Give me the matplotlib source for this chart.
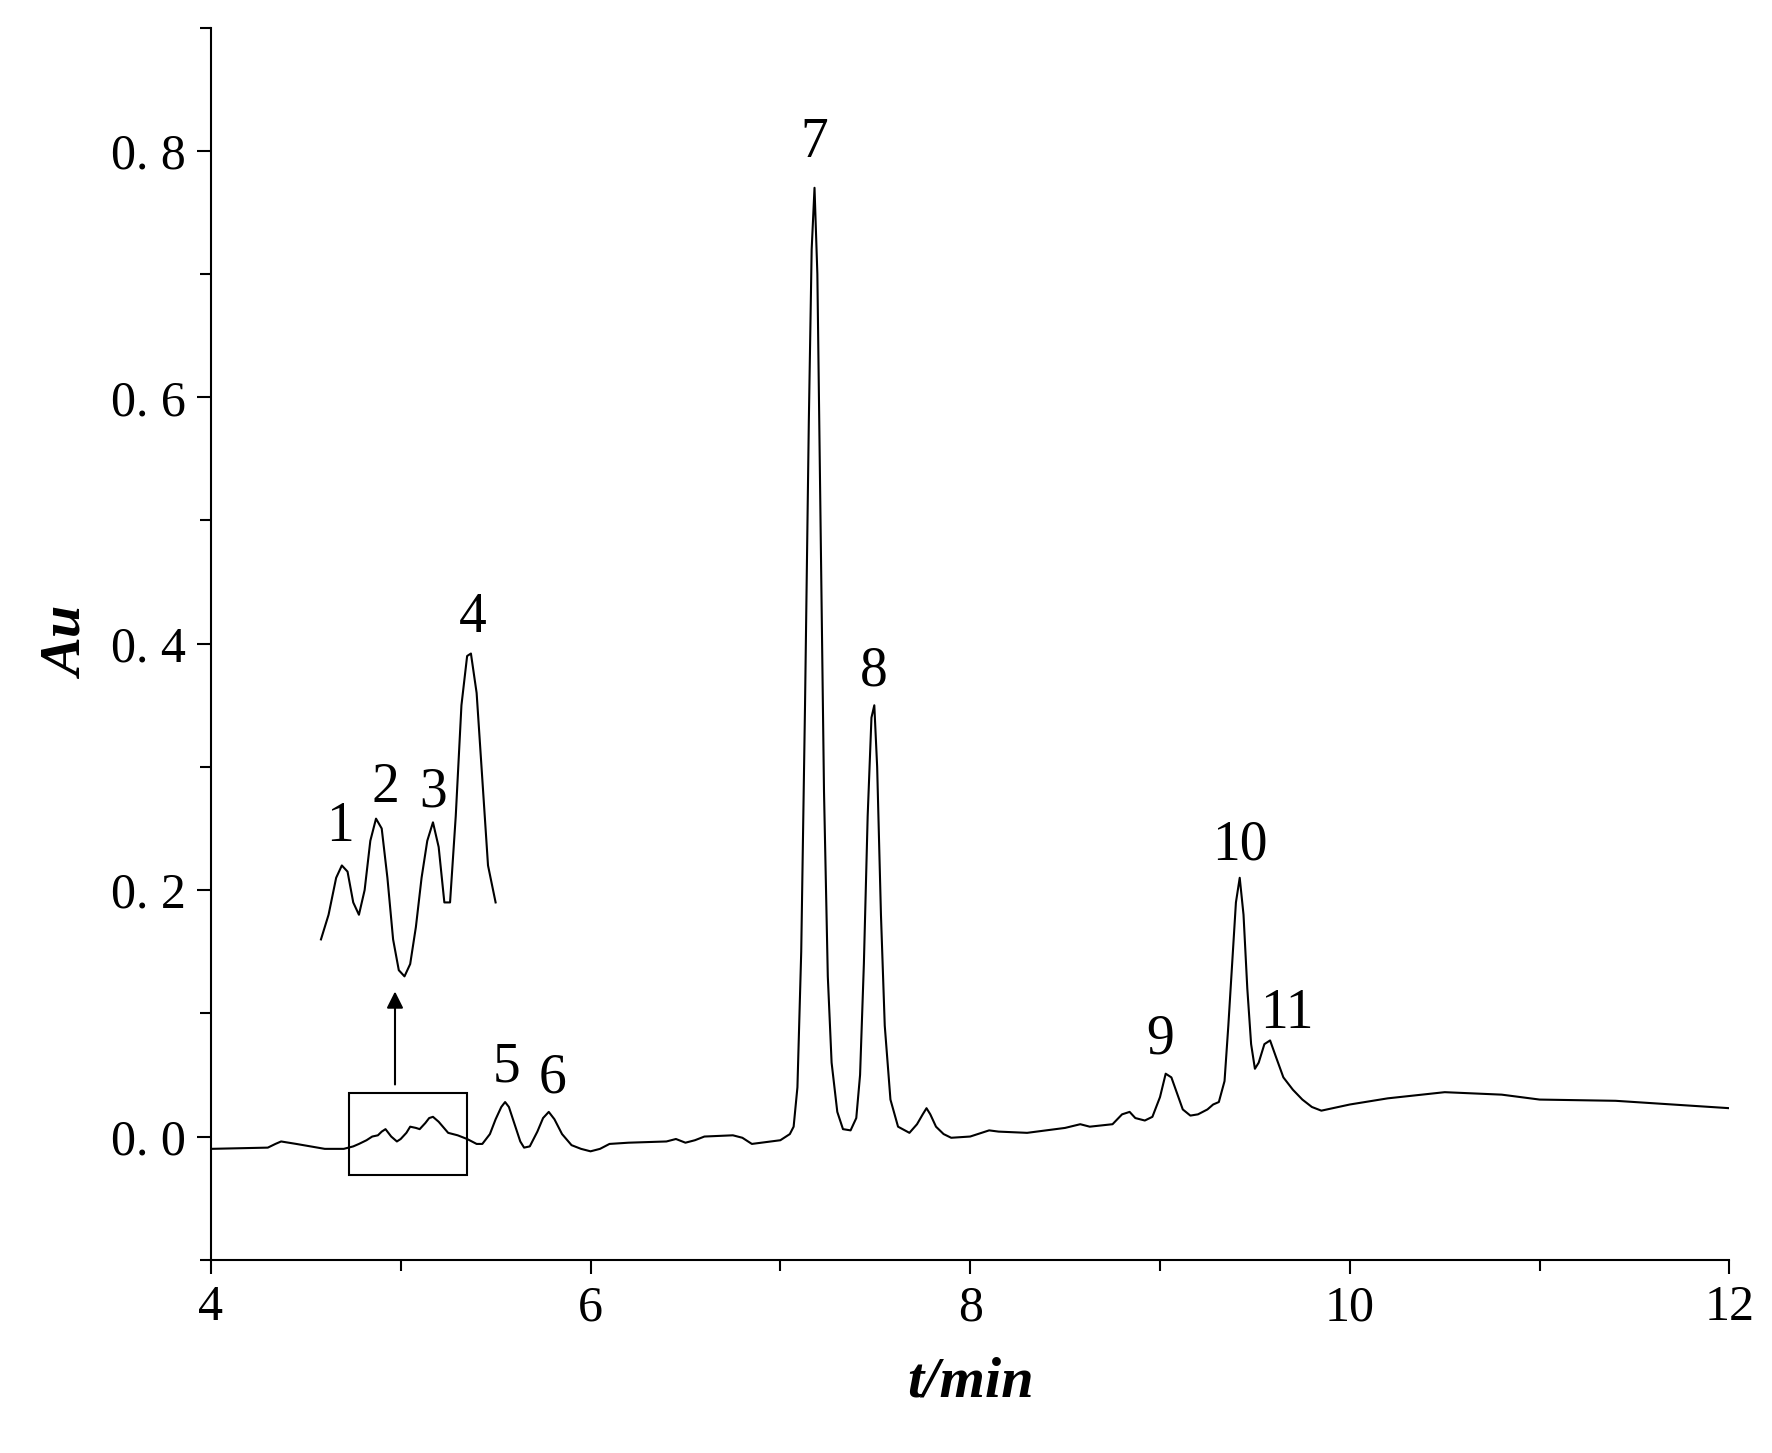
import matplotlib
matplotlib.use('Agg')
import matplotlib.pyplot as plt
from matplotlib.ticker import MultipleLocator
from matplotlib.patches import Rectangle

plt.rcParams['font.family'] = ['Liberation Serif', 'DejaVu Serif']

# main chromatogram trace, (t/min, Au)
trace = [
    (4.0, -0.010), (4.3, -0.009), (4.34, -0.006), (4.37, -0.004), (4.41, -0.005),
    (4.45, -0.006), (4.6, -0.010), (4.7, -0.010), (4.75, -0.008), (4.78, -0.006),
    (4.82, -0.003), (4.85, 0.000), (4.88, 0.001), (4.9, 0.004), (4.92, 0.006),
    (4.95, 0.000), (4.98, -0.004), (5.0, -0.002), (5.03, 0.003), (5.05, 0.008),
    (5.08, 0.007), (5.1, 0.006), (5.13, 0.011), (5.15, 0.015), (5.17, 0.016),
    (5.2, 0.012), (5.25, 0.003), (5.3, 0.001), (5.35, -0.002), (5.4, -0.006),
    (5.43, -0.006), (5.47, 0.002), (5.5, 0.014), (5.53, 0.024), (5.55, 0.028),
    (5.57, 0.024), (5.6, 0.010), (5.63, -0.004), (5.65, -0.009), (5.68, -0.008),
    (5.72, 0.004), (5.75, 0.015), (5.78, 0.020), (5.81, 0.014), (5.85, 0.002),
    (5.9, -0.007), (5.95, -0.010), (6.0, -0.012), (6.05, -0.010), (6.1, -0.006),
    (6.2, -0.005), (6.4, -0.004), (6.45, -0.002), (6.5, -0.005), (6.55, -0.003),
    (6.6, 0.000), (6.75, 0.001), (6.8, -0.001), (6.85, -0.006), (6.9, -0.005),
    (7.0, -0.003), (7.05, 0.002), (7.07, 0.008), (7.09, 0.04), (7.11, 0.15),
    (7.13, 0.35), (7.15, 0.58), (7.165, 0.72), (7.18, 0.77), (7.195, 0.70),
    (7.21, 0.52), (7.23, 0.28), (7.25, 0.13), (7.27, 0.06), (7.3, 0.02),
    (7.33, 0.006), (7.37, 0.005), (7.4, 0.015), (7.42, 0.05), (7.44, 0.14),
    (7.46, 0.26), (7.48, 0.34), (7.495, 0.35), (7.51, 0.30), (7.53, 0.18),
    (7.55, 0.09), (7.58, 0.03), (7.62, 0.008), (7.68, 0.003), (7.72, 0.01),
    (7.75, 0.018), (7.77, 0.023), (7.79, 0.018), (7.82, 0.008), (7.86, 0.002),
    (7.9, -0.001), (8.0, 0.000), (8.1, 0.005), (8.15, 0.004), (8.3, 0.003),
    (8.5, 0.007), (8.58, 0.010), (8.63, 0.008), (8.75, 0.010), (8.8, 0.018),
    (8.84, 0.020), (8.87, 0.015), (8.92, 0.013), (8.96, 0.016), (9.0, 0.032),
    (9.03, 0.051), (9.06, 0.048), (9.09, 0.035), (9.12, 0.022), (9.16, 0.017),
    (9.2, 0.018), (9.25, 0.022), (9.28, 0.026), (9.31, 0.028), (9.34, 0.045),
    (9.36, 0.09), (9.38, 0.14), (9.4, 0.19), (9.42, 0.21), (9.44, 0.18),
    (9.46, 0.12), (9.48, 0.075), (9.5, 0.055), (9.52, 0.06), (9.55, 0.075),
    (9.58, 0.078), (9.61, 0.065), (9.65, 0.048), (9.7, 0.038), (9.75, 0.030),
    (9.8, 0.024), (9.85, 0.021), (10.0, 0.026), (10.2, 0.031), (10.5, 0.036),
    (10.8, 0.034), (11.0, 0.030), (11.4, 0.029), (11.7, 0.026), (12.0, 0.023),
]
t = [p[0] for p in trace]
au = [p[1] for p in trace]

# magnified inset of peaks 1-4
t_zoom = [4.58, 4.62, 4.66, 4.69, 4.72, 4.75, 4.78, 4.81, 4.84, 4.87, 4.9, 4.93, 4.96,
          4.99, 5.02, 5.05, 5.08, 5.11, 5.14, 5.17, 5.2, 5.23, 5.26, 5.29, 5.32, 5.35,
          5.37, 5.4, 5.43, 5.46, 5.5]
au_zoom = [0.16, 0.18, 0.21, 0.22, 0.215, 0.19, 0.18, 0.20, 0.24, 0.258, 0.25, 0.21,
           0.16, 0.135, 0.13, 0.14, 0.17, 0.21, 0.24, 0.255, 0.235, 0.19, 0.19, 0.26,
           0.35, 0.39, 0.392, 0.36, 0.29, 0.22, 0.19]

peak_labels = ['1', '2', '3', '4', '5', '6', '7', '8', '9', '10', '11']
label_t = [4.68, 4.92, 5.17, 5.38, 5.56, 5.8, 7.18, 7.49, 9.0, 9.42, 9.67]
label_y = [0.23, 0.262, 0.258, 0.40, 0.035, 0.026, 0.785, 0.356, 0.058, 0.215, 0.078]

fig = plt.figure(figsize=(17.72, 14.53), dpi=100)
ax = fig.add_axes([0.119, 0.133, 0.857, 0.848])
ax.plot(t, au, color='black', lw=1.5)
ax.plot(t_zoom, au_zoom, color='black', lw=1.5)
ax.add_patch(Rectangle((4.73, -0.031), 0.62, 0.066, fill=False, ec='black', lw=1.5))
ax.annotate('', xy=(4.97, 0.12), xytext=(4.97, 0.04),
            arrowprops=dict(arrowstyle='-|>', color='black', lw=1.5, mutation_scale=25))
for s, x, y in zip(peak_labels, label_t, label_y):
    ax.text(x, y, s, ha='center', va='bottom', fontsize=40)

ax.set_xlim(4, 12)
ax.set_ylim(-0.1, 0.9)
ax.xaxis.set_major_locator(MultipleLocator(2))
ax.xaxis.set_minor_locator(MultipleLocator(1))
ax.yaxis.set_minor_locator(MultipleLocator(0.1))
ax.set_yticks([0.0, 0.2, 0.4, 0.6, 0.8])
ax.set_yticklabels(['0. 0', '0. 2', '0. 4', '0. 6', '0. 8'])
ax.tick_params(labelsize=36, width=1.5, length=10, direction='out', pad=8)
ax.tick_params(which='minor', width=1.5, length=8)
ax.spines['top'].set_visible(False)
ax.spines['right'].set_visible(False)
ax.spines['left'].set_linewidth(1.5)
ax.spines['bottom'].set_linewidth(1.5)
ax.set_xlabel('t/min', fontsize=42, fontweight='bold', style='italic', labelpad=18)
ax.set_ylabel('Au', fontsize=42, fontweight='bold', style='italic', labelpad=12)

fig.savefig('out.png', dpi=100)
